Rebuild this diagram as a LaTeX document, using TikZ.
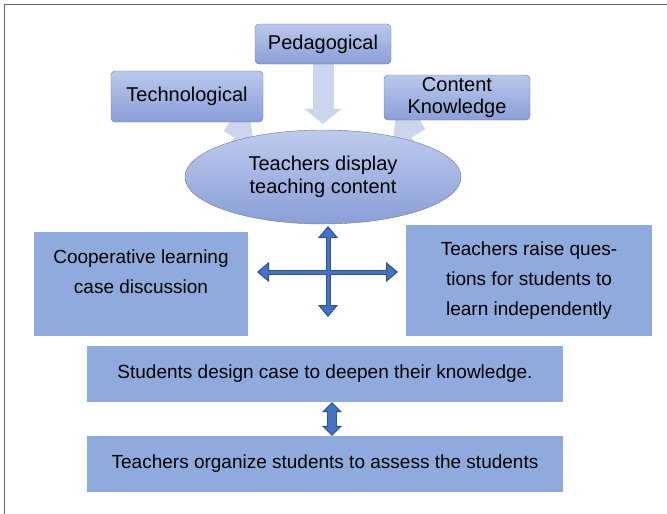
\documentclass[tikz,border=0pt]{standalone}
\usepackage{fontspec}
\setmainfont{Liberation Sans}
\usetikzlibrary{arrows.meta,shapes.geometric,backgrounds}

\definecolor{boxblue}{RGB}{143,170,220}
\definecolor{topblue}{RGB}{186,200,237}
\definecolor{lowblue}{RGB}{138,159,215}
\definecolor{edgegray}{RGB}{118,120,132}
\definecolor{paleblue}{RGB}{203,213,238}
\definecolor{crossfill}{RGB}{68,114,196}
\definecolor{crossline}{RGB}{47,82,143}
\definecolor{framegray}{RGB}{100,100,100}

\tikzset{
  topbox/.style={draw=edgegray, rounded corners=4pt, top color=topblue, bottom color=lowblue,
    align=center, inner sep=0pt, font=\fontsize{20}{22}\selectfont},
  midbox/.style={fill=boxblue, align=center, inner sep=0pt, font=\fontsize{19}{30}\selectfont},
  lowbox/.style={fill=boxblue, minimum width=476pt, minimum height=56pt, inner sep=0pt,
    font=\fontsize{19}{22}\selectfont},
  fatarrow/.style={draw=paleblue, line width=21pt, -{Triangle[length=15pt,width=37pt]}},
  crossout/.style={draw=crossline, line width=5pt,
    {Triangle[length=12pt,width=20pt,line width=1pt,fill=crossfill]}-{Triangle[length=12pt,width=20pt,line width=1pt,fill=crossfill]}},
  crossin/.style={draw=crossfill, line width=3pt, shorten <=11pt, shorten >=11pt},
  dblout/.style={draw=crossline, line width=10pt,
    {Triangle[length=10pt,width=20pt,line width=1pt,fill=crossfill]}-{Triangle[length=10pt,width=20pt,line width=1pt,fill=crossfill]}},
  dblin/.style={draw=crossfill, line width=8pt, shorten <=9pt, shorten >=9pt}
}

\begin{document}
\begin{tikzpicture}[x=1pt, y=-1pt]
    \useasboundingbox (0,0) rectangle (667,514);
    % Frame
    \draw[framegray, line width=1.2pt] (4.5,514) -- (4.5,4.5) -- (667,4.5);

    % Knowledge sources
    \node[topbox, minimum width=136pt, minimum height=40pt] (ped) at (323,44) {Pedagogical};
    \node[topbox, minimum width=152pt, minimum height=51pt] (tech) at (187,96.5) {Technological};
    \node[topbox, minimum width=146pt, minimum height=45pt] (know) at (457,97.5) {Content\\Knowledge};

    % Display
    \node[ellipse, draw=edgegray, top color=topblue!95!white, bottom color=lowblue, minimum width=276pt,
      minimum height=94pt, inner sep=0pt, align=center, font=\fontsize{20}{23}\selectfont]
      (disp) at (323,177) {Teachers display\\teaching content};

    \begin{scope}[on background layer]
        \draw[fatarrow, shorten >=6pt] (ped) -- (disp.north);
        \draw[fatarrow] (tech) -- (disp.150);
        \draw[fatarrow] (know) -- (disp.30);
    \end{scope}

    % Middle layer
    \node[midbox, minimum width=214pt, minimum height=104pt,
      label={[yshift=12pt, align=center, font=\fontsize{19}{30}\selectfont]center:Cooperative learning\\case discussion}]
      (coop) at (141,284) {};
    \node[midbox, minimum width=246pt, minimum height=111pt] (quest) at (529,280.5)
      {Teachers raise ques-\\tions for students to\\learn independently};

    % Cross arrow
    \coordinate (up) at (328,226);
    \coordinate (down) at (328,317);
    \coordinate (left) at (257,272);
    \coordinate (right) at (398,272);
    \draw[crossout] (up) -- (down);
    \draw[crossout] (left) -- (right);
    \draw[crossin] (up) -- (down);
    \draw[crossin] (left) -- (right);

    % Bottom layer
    \node[lowbox] (design) at (325,374) {Students design case to deepen their knowledge.};
    \node[lowbox] (assess) at (325,464) {Teachers organize students to assess the students};

    \draw[dblout] ([xshift=7pt]design.south) -- ([xshift=7pt]assess.north);
    \draw[dblin] ([xshift=7pt]design.south) -- ([xshift=7pt]assess.north);
\end{tikzpicture}
\end{document}
